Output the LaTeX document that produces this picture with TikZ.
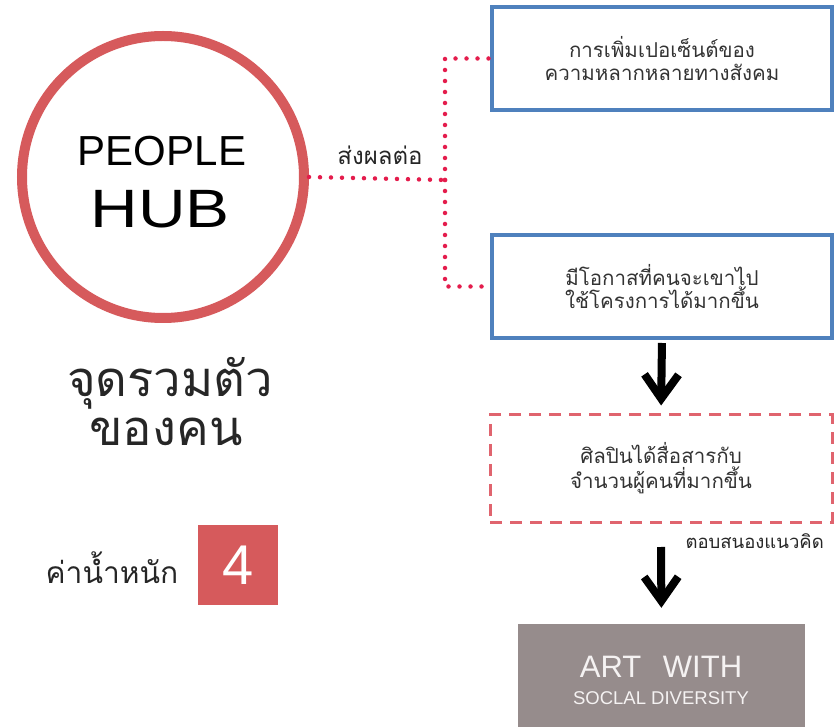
\documentclass[tikz,border=0pt]{standalone}
\usepackage{fontspec}
\setmainfont{Liberation Sans}
\newfontfamily\thaifont[Script=Thai]{Loma}
\usetikzlibrary{arrows.meta}
\definecolor{hubred}{RGB}{214,90,92}
\definecolor{dotred}{RGB}{228,28,76}
\definecolor{boxblue}{RGB}{79,129,189}
\definecolor{dashred}{RGB}{224,100,110}
\definecolor{artgray}{RGB}{150,140,140}
\definecolor{artwhite}{RGB}{245,242,242}
\tikzset{
  dotline/.style={draw=dotred, line width=4.5pt, line cap=round, dash pattern=on 0pt off 11pt},
  bluebox/.style={draw=boxblue, line width=4pt, minimum width=340pt, minimum height=103pt, align=center, font=\thaifont\fontsize{20.5}{23}\selectfont, text=black!80},
  dashbox/.style={draw=dashred, line width=3pt, dash pattern=on 12pt off 8pt, minimum width=342pt, minimum height=107pt, align=center, font=\thaifont\fontsize{20.5}{25}\selectfont, text=black!80},
  bigarrow/.style={line width=8pt, -{Straight Barb[length=24pt, width=34pt, sharp]}},
  thaitext/.style={font=\thaifont, text=black!85, inner sep=0pt},
}
\begin{document}
\begin{tikzpicture}[x=1pt, y=-1pt]
\useasboundingbox (0,0) rectangle (836,727);
% hub circle
\node[circle, draw=hubred, line width=10pt, minimum size=282pt, inner sep=0pt] (hub) at (163,177) {};
\node[inner sep=0pt, font=\fontsize{42}{42}\selectfont] (hubt1) at (162,151) {PEOPLE};
\node[inner sep=0pt, font=\fontsize{54}{54}\selectfont] (hubt2) at (160,209) {\scalebox{1.22}[1]{HUB}};
% boxes
\node[bluebox] (b1) at (662,58.5) {การเพิ่มเปอเซ็นต์ของ\\ความหลากหลายทางสังคม};
\node[bluebox] (b2) at (662,286.5) {มีโอกาสที่คนจะเขาไป\\ใช้โครงการได้มากขึ้น};
\node[dashbox] (b3) at (661,468.5) {ศิลปินได้สื่อสารกับ\\จำนวนผู้คนที่มากขึ้น};
\node[fill=artgray, minimum width=287pt, minimum height=112pt, inner sep=0pt] (art) at (661.5,680) {};
\node[inner sep=0pt, text=artwhite, font=\fontsize{31}{31}\selectfont] (art1) at (661,667) {ART\hspace{0.7em}WITH};
\node[inner sep=0pt, text=artwhite, font=\fontsize{18.5}{18.5}\selectfont] (art2) at (661,698) {SOCLAL DIVERSITY};
% dotted connectors
\coordinate (j) at (445,180);
\draw[dotline] (hub.east) -- (j);
\draw[dotline] (j) |- (b1.west);
\draw[dotline] (j) |- (b2.west);
\node[thaitext, font=\thaifont\fontsize{24}{24}\selectfont] (effect) at (380,155) {ส่งผลต่อ};
% arrows
\draw[bigarrow, shorten <=3pt, shorten >=8pt] (b2.south) -- (b3.north);
\node[thaitext, font=\thaifont\fontsize{18.5}{18.5}\selectfont, anchor=east] (resp) at (824,541) {ตอบสนองแนวคิด};
\coordinate (a2s) at (661,547);
\draw[bigarrow, shorten >=16pt] (a2s) -- (art.north);
% left texts
\node[thaitext, font=\thaifont\fontsize{49}{49}\selectfont] (gather1) at (170,383) {จุดรวมตัว};
\node[thaitext, font=\thaifont\fontsize{49}{49}\selectfont] (gather2) at (166,432) {ของคน};
\node[thaitext, font=\thaifont\fontsize{30}{30}\selectfont] (weight) at (112,568) {ค่าน้ำหนัก};
\node[fill=hubred, minimum width=80pt, minimum height=80pt, inner sep=0pt, text=white, font=\fontsize{56}{56}\selectfont] (four) at (238,565) {4};
\end{tikzpicture}
\end{document}
